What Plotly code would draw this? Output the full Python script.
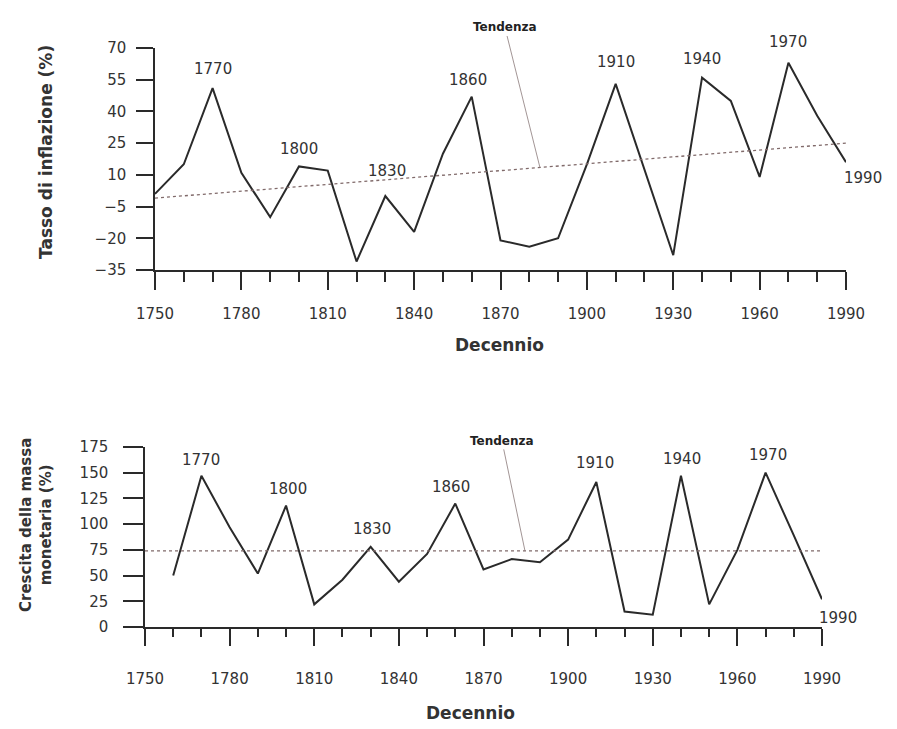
import plotly.graph_objects as go

# ---------------- data ----------------
decades = list(range(1750, 2000, 10))
inflation = [1, 15, 51, 11, -10, 14, 12, -31, 0, -17, 20, 47, -21, -24, -20,
             15, 53, 12, -28, 56, 45, 9, 63, 38, 16]
infl_trend_years = [1750, 1990]
infl_trend_vals = [-1, 25]

money_decades = list(range(1760, 2000, 10))
money_growth = [50, 147, 97, 52, 118, 22, 46, 78, 44, 71, 120, 56, 66, 63,
                85, 141, 15, 12, 147, 22, 75, 150, 89, 27]
money_trend_years = [1750, 1990]
money_trend_vals = [74, 74]

label_years = [1770, 1800, 1830, 1860, 1910, 1940, 1970, 1990]
x_tick_vals = [1750, 1780, 1810, 1840, 1870, 1900, 1930, 1960, 1990]
trend_label = "Tendenza"

# ---------------- style ----------------
W, H = 897, 729
OFF = 8  # page body margin
FONT = "DejaVu Sans, Liberation Sans, Arial, sans-serif"
INK = "#2a2a2a"
TXT = "#333333"
TREND = "#806a6a"

def px_x(px):
    return (px - OFF) / W

def px_y(px):
    return 1 - (px - OFF) / H

fig = go.Figure()

# top panel
fig.add_trace(go.Scatter(x=decades, y=inflation, mode="lines",
                         line=dict(color=INK, width=2), xaxis="x", yaxis="y",
                         showlegend=False))
fig.add_trace(go.Scatter(x=infl_trend_years, y=infl_trend_vals, mode="lines",
                         line=dict(color=TREND, width=1.3, dash="dot"),
                         xaxis="x", yaxis="y", showlegend=False))
# bottom panel
fig.add_trace(go.Scatter(x=money_decades, y=money_growth, mode="lines",
                         line=dict(color=INK, width=2), xaxis="x2", yaxis="y2",
                         showlegend=False))
fig.add_trace(go.Scatter(x=money_trend_years, y=money_trend_vals, mode="lines",
                         line=dict(color=TREND, width=1.3, dash="dot"),
                         xaxis="x2", yaxis="y2", showlegend=False))

def xaxis_cfg(domain, majlen, minlen, standoff):
    return dict(domain=domain, range=[1750, 1990], tickmode="array",
                tickvals=x_tick_vals, ticks="outside", ticklen=majlen,
                tickwidth=1.5, tickcolor=INK, showline=True, linecolor=INK,
                linewidth=1.5, showgrid=False, zeroline=False, automargin=False,
                ticklabelstandoff=standoff,
                tickfont=dict(family=FONT, size=15, color=TXT),
                minor=dict(dtick=10, tick0=1750, ticks="outside", ticklen=minlen,
                           tickwidth=1.5, tickcolor=INK, showgrid=False))

def yaxis_cfg(domain, rng, dtick, tick0, ticklen, standoff):
    return dict(domain=domain, range=rng, dtick=dtick, tick0=tick0,
                ticks="outside", ticklen=ticklen, tickwidth=1.5, tickcolor=INK,
                showline=True, linecolor=INK, linewidth=1.5, showgrid=False,
                zeroline=False, automargin=False, ticklabelstandoff=standoff,
                tickfont=dict(family=FONT, size=15, color=TXT))

fig.update_layout(
    template="none",
    width=W, height=H,
    margin=dict(l=0, r=0, t=0, b=0, pad=0, autoexpand=False),
    paper_bgcolor="white", plot_bgcolor="white",
    xaxis=dict(xaxis_cfg([px_x(155), px_x(846)], 18, 10, 11), anchor="y"),
    yaxis=dict(yaxis_cfg([px_y(270), px_y(48)], [-35, 70], 15, -35, 17, 7), anchor="x"),
    xaxis2=dict(xaxis_cfg([px_x(145), px_x(822)], 17, 8, 20), anchor="y2"),
    yaxis2=dict(yaxis_cfg([px_y(627), px_y(447)], [0, 175], 25, 0, 20, 12), anchor="x2"),
)

annots = []
infl_map = dict(zip(decades, inflation))
money_map = dict(zip(money_decades, money_growth))
top_shift = {1770: (0, 19), 1800: (0, 17), 1830: (2, 25), 1860: (-4, 17),
             1910: (0, 22), 1940: (0, 19), 1970: (0, 21), 1990: (17, -16)}
bot_shift = {1770: (0, 16), 1800: (2, 17), 1830: (1, 18), 1860: (-4, 17),
             1910: (-1, 19), 1940: (1, 17), 1970: (2, 18), 1990: (16, -19)}
for yr in label_years:
    dx, dy = top_shift[yr]
    annots.append(dict(x=yr, y=infl_map[yr], xref="x", yref="y", text=str(yr),
                       showarrow=False, xshift=dx, yshift=dy,
                       xanchor="center", yanchor="middle",
                       font=dict(family=FONT, size=15, color=TXT)))
    dx, dy = bot_shift[yr]
    annots.append(dict(x=yr, y=money_map[yr], xref="x2", yref="y2", text=str(yr),
                       showarrow=False, xshift=dx, yshift=dy,
                       xanchor="center", yanchor="middle",
                       font=dict(family=FONT, size=15, color=TXT)))

# trend labels with leader lines
t_top_year = 1883.7
t_top_val = infl_trend_vals[0] + (infl_trend_vals[1] - infl_trend_vals[0]) * (t_top_year - 1750) / 240
annots.append(dict(x=t_top_year, y=t_top_val, xref="x", yref="y", text="<b>" + trend_label + "</b>",
                   showarrow=True, arrowhead=0, arrowwidth=0.8, arrowcolor="#8a7a7a",
                   ax=-35, ay=-140, font=dict(family=FONT, size=12, color="#222")))
annots.append(dict(x=1884.7, y=money_trend_vals[0], xref="x2", yref="y2", text="<b>" + trend_label + "</b>",
                   showarrow=True, arrowhead=0, arrowwidth=0.8, arrowcolor="#8a7a7a",
                   ax=-23, ay=-110, font=dict(family=FONT, size=12, color="#222")))

# axis titles
annots.append(dict(x=px_x(46), y=px_y(152), xref="paper", yref="paper",
                   xanchor="center", yanchor="middle",
                   text="<b>Tasso di inflazione (%)</b>", textangle=-90, showarrow=False,
                   font=dict(family=FONT, size=17, color=TXT)))
annots.append(dict(x=px_x(36), y=px_y(525), xref="paper", yref="paper",
                   xanchor="center", yanchor="middle",
                   text="<b>Crescita della massa<br>monetaria (%)</b>", textangle=-90,
                   showarrow=False, font=dict(family=FONT, size=15, color=TXT)))
annots.append(dict(x=px_x(500), y=px_y(345), xref="paper", yref="paper",
                   xanchor="center", yanchor="middle",
                   text="<b>Decennio</b>", showarrow=False,
                   font=dict(family=FONT, size=17, color=TXT)))
annots.append(dict(x=px_x(470), y=px_y(713), xref="paper", yref="paper",
                   xanchor="center", yanchor="middle",
                   text="<b>Decennio</b>", showarrow=False,
                   font=dict(family=FONT, size=17, color=TXT)))

fig.update_layout(annotations=annots)
fig.write_html("out.html")
